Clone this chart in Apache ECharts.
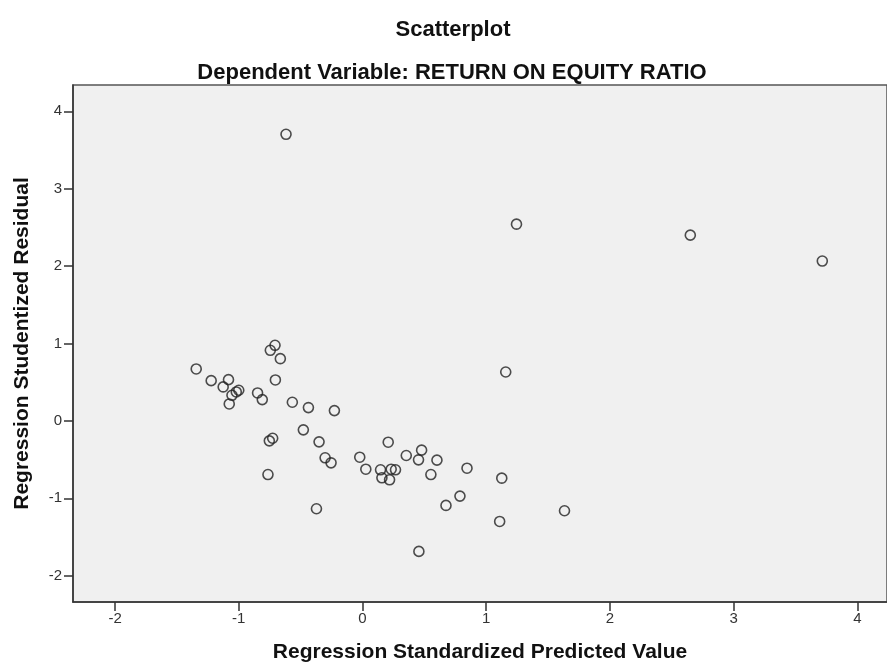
<!DOCTYPE html>
<html>
<head>
<meta charset="utf-8">
<script src="https://cdn.jsdelivr.net/npm/echarts@6/dist/echarts.min.js"></script>
<style>
html,body{margin:0;padding:0;background:#fff;}
#c{width:887px;height:663px;}
</style>
</head>
<body>
<div id="c"></div>
<script>
const predicted = [-0.618, 1.245, 2.650, 3.717, 1.158, -1.344, -1.223, -1.083, -1.126, -1.000,
  -1.020, -1.055, -1.077, -0.707, -0.745, -0.664, -0.704, -0.848, -0.810, -0.567,
  -0.437, -0.227, -0.478, -0.351, -0.726, -0.753, -0.302, -0.254, -0.764, -0.372,
  -0.022, 0.027, 0.146, 0.157, 0.232, 0.267, 0.219, 0.208, 0.354, 0.478,
  0.453, 0.602, 0.553, 0.845, 1.126, 0.788, 0.675, 1.109, 0.456, 1.633];
const residual = [3.703, 2.542, 2.400, 2.065, 0.632, 0.671, 0.520, 0.533, 0.439, 0.396,
  0.374, 0.331, 0.219, 0.977, 0.912, 0.804, 0.529, 0.361, 0.275, 0.241,
  0.172, 0.133, -0.116, -0.271, -0.224, -0.258, -0.477, -0.542, -0.693, -1.135,
  -0.469, -0.624, -0.632, -0.735, -0.624, -0.632, -0.761, -0.275, -0.447, -0.378,
  -0.503, -0.507, -0.693, -0.611, -0.740, -0.972, -1.092, -1.299, -1.686, -1.161];
const xTicks = [-2, -1, 0, 1, 2, 3, 4];
const yTicks = [-2, -1, 0, 1, 2, 3, 4];
const titleText = 'Scatterplot';
const subtitleText = 'Dependent Variable: RETURN ON EQUITY RATIO';
const xName = 'Regression Standardized Predicted Value';
const yName = 'Regression Studentized Residual';

const points = predicted.map((v, i) => [v, residual[i]]);
const font = 'Liberation Sans, Arial, sans-serif';
const chart = echarts.init(document.getElementById('c'), null, {renderer: 'canvas'});
chart.setOption({
  animation: false,
  backgroundColor: '#ffffff',
  title: [
    {text: titleText, left: 448, top: 14, textAlign: 'center',
     textStyle: {fontFamily: font, fontSize: 22, fontWeight: 'bold', color: '#111'}},
    {text: subtitleText, left: 447, top: 57, textAlign: 'center',
     textStyle: {fontFamily: font, fontSize: 22, fontWeight: 'bold', color: '#111'}}
  ],
  grid: {left: 73, right: 0, top: 85, bottom: 61, show: true, containLabel: false,
    outerBoundsMode: 'none',
    backgroundColor: '#f0f0f0', borderColor: '#555', borderWidth: 1.5},
  xAxis: {
    type: 'value', min: -2.34, max: 4.24,
    name: xName, nameLocation: 'middle', nameGap: 40,
    nameTextStyle: {fontFamily: font, fontSize: 21, fontWeight: 'bold', color: '#111'},
    axisLine: {show: true, onZero: false, lineStyle: {color: '#333', width: 1.5}},
    axisTick: {show: true, length: 9, customValues: xTicks, lineStyle: {color: '#333', width: 1.5}},
    axisLabel: {customValues: xTicks, fontFamily: font, fontSize: 15, color: '#333', margin: 9},
    splitLine: {show: false}
  },
  yAxis: {
    type: 'value', min: -2.34, max: 4.34,
    name: yName, nameLocation: 'middle', nameGap: 40,
    nameTextStyle: {fontFamily: font, fontSize: 21, fontWeight: 'bold', color: '#111'},
    axisLine: {show: true, onZero: false, lineStyle: {color: '#333', width: 1.5}},
    axisTick: {show: true, length: 9, customValues: yTicks, lineStyle: {color: '#333', width: 1.5}},
    axisLabel: {customValues: yTicks, fontFamily: font, fontSize: 15, color: '#333', margin: 11},
    splitLine: {show: false}
  },
  series: [{
    type: 'scatter', data: points, symbol: 'circle', symbolSize: 10,
    itemStyle: {color: 'rgba(0,0,0,0)', borderColor: '#222', borderWidth: 1.6}
  }]
});
</script>
</body>
</html>
